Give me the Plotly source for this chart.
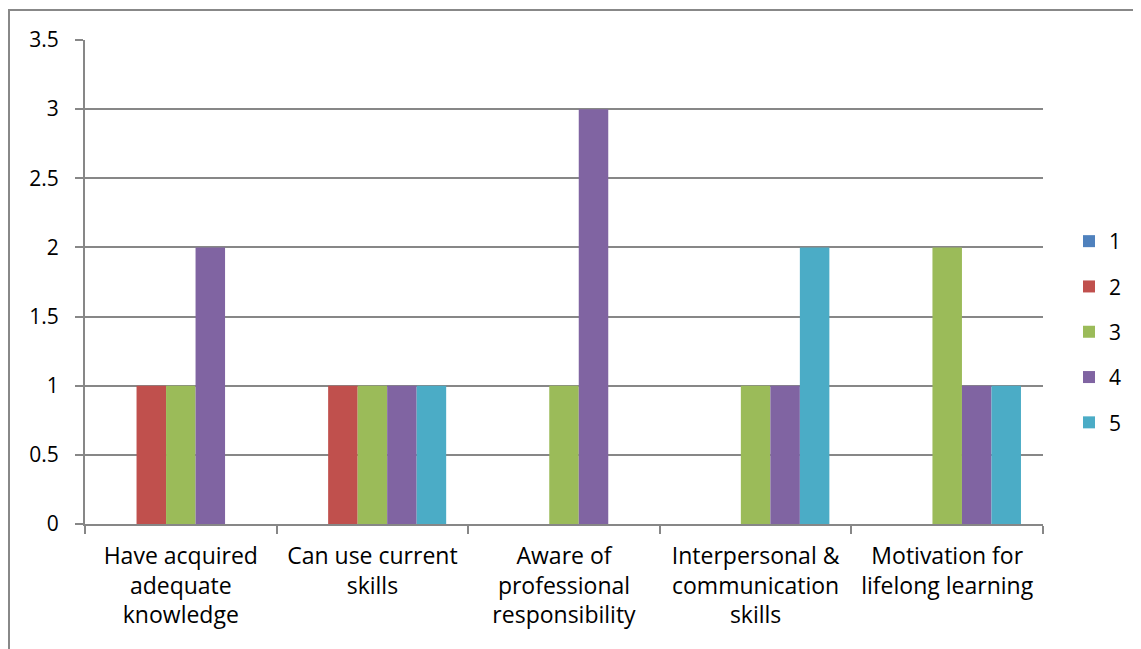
import plotly.graph_objects as go

categories = [
    "Have acquired<br>adequate<br>knowledge",
    "Can use current<br>skills",
    "Aware of<br>professional<br>responsibility",
    "Interpersonal &<br>communication<br>skills",
    "Motivation for<br>lifelong learning",
]
series_names = ["1", "2", "3", "4", "5"]
s1 = [0, 0, 0, 0, 0]
s2 = [1, 1, 0, 0, 0]
s3 = [1, 1, 1, 1, 2]
s4 = [2, 1, 3, 1, 1]
s5 = [0, 1, 0, 2, 1]
colors = ["#4F81BD", "#C0504D", "#9BBB59", "#8064A2", "#4BACC6"]

FONT = "Open Sans, Liberation Sans, sans-serif"
GRID = "#878787"

fig = go.Figure()
for name, vals, col in zip(series_names, [s1, s2, s3, s4, s5], colors):
    fig.add_trace(
        go.Bar(
            name=name,
            x=categories,
            y=vals,
            marker={"color": col, "line": {"width": 0}},
            legendgroup=name,
        )
    )

# page body has an 8px margin, so the figure is shifted by 8px
OFF = 8
W, H = 1141 - OFF, 649 - OFF
L, R, T, B = 85 - OFF, 98, 40 - OFF, 125
pw, ph = W - L - R, H - T - B

fig.update_layout(
    width=W,
    height=H,
    margin={"l": L, "r": R, "t": T, "b": B, "autoexpand": False},
    paper_bgcolor="white",
    plot_bgcolor="white",
    font={"family": FONT, "size": 20, "color": "#000000"},
    barmode="group",
    bargap=0.23,
    bargroupgap=0,
    legend={
        "x": (1069 - OFF - L) / pw,
        "xanchor": "left",
        "y": (H - B - (332 - OFF)) / ph,
        "yanchor": "middle",
        "tracegroupgap": 15,
        "font": {"size": 21},
        "itemwidth": 30,
    },
    shapes=[
        {
            "type": "rect",
            "xref": "paper",
            "yref": "paper",
            "x0": (9 - OFF - L) / pw,
            "y0": -0.5,
            "x1": 1.3,
            "y1": 1 + (T - (10 - OFF)) / ph,
            "line": {"color": "#888888", "width": 2},
            "layer": "below",
        }
    ],
)
fig.update_xaxes(
    showline=True,
    linecolor=GRID,
    linewidth=2,
    ticks="outside",
    tickson="boundaries",
    ticklen=8,
    tickcolor=GRID,
    tickwidth=2,
    showgrid=False,
    tickfont={"size": 23},
    ticklabelstandoff=10,
    automargin=False,
)
fig.update_yaxes(
    range=[0, 3.5],
    dtick=0.5,
    showline=True,
    linecolor=GRID,
    linewidth=2,
    ticks="outside",
    ticklen=8,
    tickcolor=GRID,
    tickwidth=2,
    showgrid=True,
    gridcolor=GRID,
    gridwidth=2,
    zeroline=False,
    ticklabelstandoff=12,
    tickfont={"size": 21},
    automargin=False,
)

fig.write_html("out.html")
